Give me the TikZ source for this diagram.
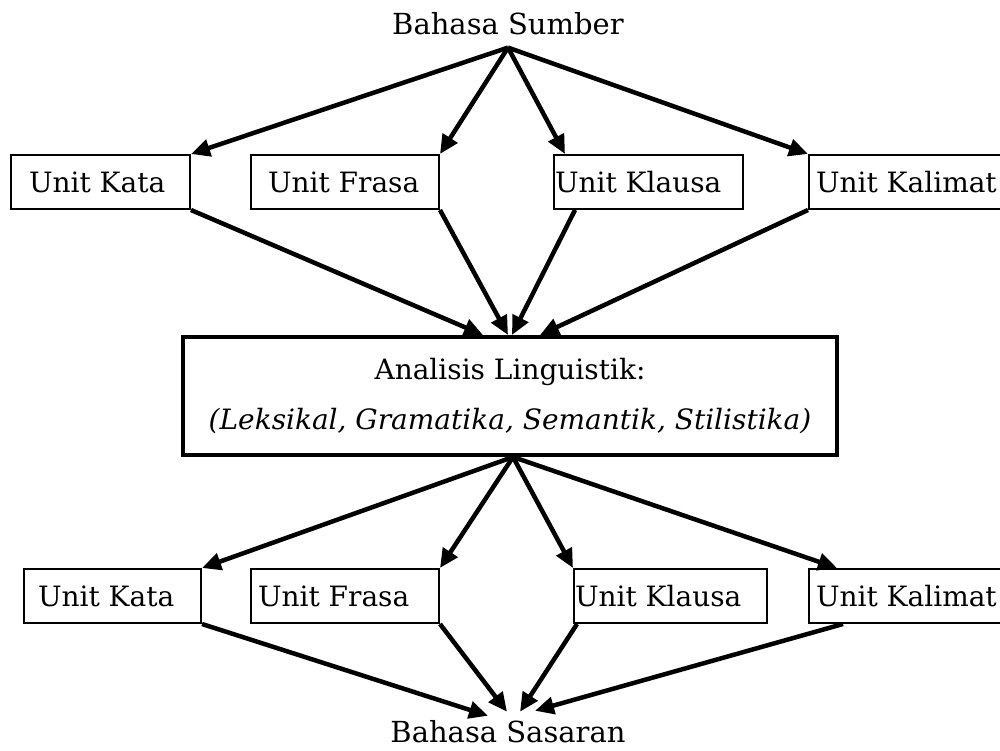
\documentclass[tikz,border=0pt]{standalone}
\usepackage{fontspec}
\setmainfont{DejaVu Serif}
\usetikzlibrary{arrows.meta}
\begin{document}
\begin{tikzpicture}[x=1pt,y=-1pt,
  every node/.style={font=\fontsize{28}{33}\selectfont},
  ubox/.style={draw, line width=2pt, anchor=north west, minimum height=54pt, inner ysep=0pt},
  midbox/.style={draw, line width=4pt, minimum width=654pt, minimum height=118pt, align=center, inner sep=0pt},
  lang/.style={font=\fontsize{29}{34}\selectfont, inner sep=0pt, anchor=base},
  arr/.style={line width=4.5pt, -{Triangle[length=19pt,width=17pt]}}
]
\useasboundingbox (0,0) rectangle (1000,751);

% source and target language
\node[lang] (src) at (508,35) {Bahasa Sumber};
\node[lang] (dst) at (508,742) {Bahasa Sasaran};

% upper row of units
\node[ubox, inner xsep=18pt] (k1) at (10,154) {\makebox[143pt][l]{Unit Kata}};
\node[ubox, inner xsep=17pt] (f1) at (250,154) {\makebox[154pt][l]{Unit Frasa}};
\node[ubox, inner xsep=1pt] (c1) at (553,154) {\makebox[187pt][l]{Unit Klausa}};
\node[ubox, inner xsep=7pt] (m1) at (808,154) {\makebox[200pt][l]{Unit Kalimat}};

% linguistic analysis
\node[midbox] (mid) at (510,396) {Analisis Linguistik:\\[17pt] \textit{(Leksikal, Gramatika, Semantik, Stilistika)}};

% lower row of units
\node[ubox, inner xsep=14pt] (k2) at (23,568) {\makebox[149pt][l]{Unit Kata}};
\node[ubox, inner xsep=7pt] (f2) at (250,568) {\makebox[174pt][l]{Unit Frasa}};
\node[ubox, inner xsep=1pt] (c2) at (573,568) {\makebox[191pt][l]{Unit Klausa}};
\node[ubox, inner xsep=7pt] (m2) at (808,568) {\makebox[200pt][l]{Unit Kalimat}};

% source language to upper units
\draw[arr] ([yshift=-12pt]src.south) -- (k1.north east);
\draw[arr] ([yshift=-12pt]src.south) -- (f1.north east);
\draw[arr] ([yshift=-12pt]src.south) -- ([xshift=12pt]c1.north west);
\draw[arr] ([yshift=-12pt]src.south) -- (m1.north west);

% upper units to analysis
\draw[arr] (k1.south east) -- ([xshift=-27pt]mid.north);
\draw[arr] (f1.south east) -- ([xshift=-2pt]mid.north);
\draw[arr] ([xshift=22pt]c1.south west) -- ([xshift=2pt]mid.north);
\draw[arr] (m1.south west) -- ([xshift=30pt]mid.north);

% analysis to lower units
\draw[arr] ([xshift=3pt]mid.south) -- (k2.north east);
\draw[arr] ([xshift=3pt]mid.south) -- (f2.north east);
\draw[arr] ([xshift=3pt]mid.south) -- (c2.north west);
\draw[arr] ([xshift=3pt]mid.south) -- ([xshift=29pt]m2.north west);

% lower units to target language
\draw[arr] (k2.south east) -- ([xshift=-20pt,yshift=4pt]dst.north);
\draw[arr] (f2.south east) -- ([xshift=-1pt,yshift=8pt]dst.north);
\draw[arr] ([xshift=4pt]c2.south west) -- ([xshift=12pt,yshift=8pt]dst.north);
\draw[arr] ([xshift=35pt]m2.south west) -- ([xshift=27pt,yshift=9pt]dst.north);
\end{tikzpicture}
\end{document}
